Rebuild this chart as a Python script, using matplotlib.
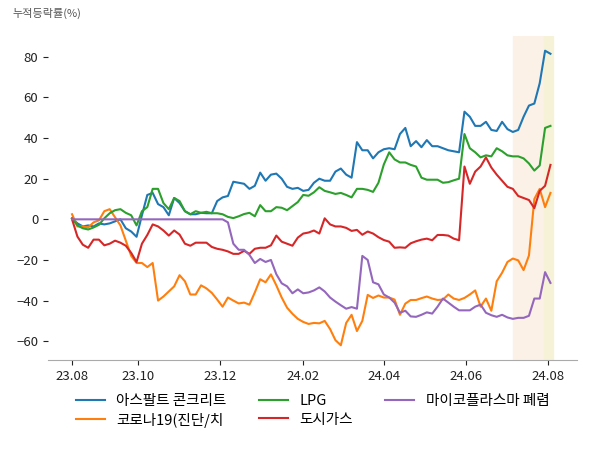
import pandas as pd
import matplotlib
matplotlib.use('Agg')
import matplotlib.pyplot as plt
import matplotlib.dates as mdates

plt.rcParams['font.family'] = ['Noto Sans CJK KR', 'DejaVu Sans']

# 4일 간격 날짜 (23.08.13 ~ 24.08.03)
dates = pd.date_range('2023-08-13', periods=90, freq='4D')

asphalt = [0.5, -2, -3.5, -3, -3.5, -2, -2.5, -2, -1, 0,
           -4.4, -6, -8.6, 2, 12, 13, 7.5, 6, 2, 10.5,
           8, 4, 2.5, 2.5, 3.2, 3, 3, 9, 10.8, 11.5,
           18.5, 18, 17.5, 15, 16.5, 23, 19, 22, 22.5, 20,
           16, 15, 15.5, 14, 14.5, 18, 20, 19, 19, 23.5,
           25, 22, 20.5, 38, 34, 34, 30, 33, 34.5, 35,
           34.5, 42, 45, 36, 38.5, 35.5, 39, 36, 36, 35,
           34, 33.5, 33, 53, 50.5, 46, 46, 48, 44, 43.5,
           48, 44.4, 43, 44, 50.5, 56, 57, 67, 83, 81.5]

corona = [2.5, -3.5, -3.5, -4, -1.5, -0.5, 4, 5, 1, -3,
          -10.5, -18, -21.5, -21.5, -23.5, -21.5, -40, -38, -35.5, -33,
          -27.5, -30.5, -37, -37, -32.5, -34, -36.2, -39.5, -43, -38.5,
          -40, -41.4, -41, -42, -36, -29.5, -31, -27.1, -32.5, -38.5,
          -43.5, -46.5, -49, -50.5, -51.5, -51, -51.2, -50, -54, -59.5,
          -62, -51, -47, -55, -50, -37.2, -38.7, -37.5, -38.5, -38.5,
          -39.5, -47, -41.5, -39.7, -39.7, -38.8, -38, -39, -39.7, -39.5,
          -37, -39, -39.7, -38.7, -37, -35, -43, -39, -45, -30.5,
          -26.3, -21, -19.3, -20.2, -25, -17.8, 10, 15, 6, 13]

lpg = [0.5, -3, -4.4, -5, -4, -2.7, 0.5, 3, 4.5, 5,
       3.2, 2, -3, 4, 6, 15, 15, 8, 5, 10.5,
       9, 4, 2.5, 4, 3.2, 3.7, 3, 3, 2.5, 1.2,
       0.6, 1.5, 2.6, 3.2, 1.5, 7, 4, 4, 6, 5.7,
       4.5, 6.5, 8.5, 12, 11.6, 13.3, 15.8, 14, 13.3, 12.5,
       13, 12, 10.8, 15, 15, 14.5, 13.5, 18, 27, 33,
       29.5, 28, 28, 26.8, 26, 20.5, 19.5, 19.5, 19.5, 18,
       18.3, 19.2, 20, 42, 35, 33, 30.5, 31.5, 31, 35,
       33.5, 31.5, 31, 31, 30, 27.5, 24, 26.5, 45, 46]

citygas = [0, -8.5, -12.5, -14, -10, -10, -12.8, -12, -10.5, -11.5,
           -13, -16.5, -21, -12, -7.7, -2.5, -3.5, -5.5, -8, -5.5,
           -7.5, -12, -13, -11.5, -11.5, -11.5, -13.6, -14.5, -15, -15.8,
           -17, -17, -15.5, -17, -14.5, -14, -14, -12.8, -8, -11,
           -12, -13, -9, -7, -6.5, -5.5, -7, 0.5, -2.5, -3.5,
           -3.5, -4.2, -5.7, -5.2, -7.6, -6, -7, -8.8, -10.2, -11,
           -14, -13.8, -14, -11.8, -10.8, -10, -9.5, -10.3, -7.7, -7.7,
           -8, -9.5, -10.3, 26, 17.5, 23.5, 26, 30.5, 25.5, 22,
           19, 16, 15, 11.5, 10.5, 9.5, 5.5, 14, 16.5, 26.8]

mycoplasma = [0, 0, 0, 0, 0, 0, 0, 0, 0, 0,
              0, 0, 0, 0, 0, 0, 0, 0, 0, 0,
              0, 0, 0, 0, 0, 0, 0, 0, 0, -1.5,
              -12, -15, -15, -17.5, -21.5, -19.5, -21, -20, -27, -31.5,
              -33, -36.4, -34.5, -36.4, -36, -35, -33.5, -35.5, -38.5, -40.5,
              -42.3, -44, -43.2, -44, -18, -20, -31, -32, -37, -38.5,
              -41, -46, -45, -47.8, -48, -47, -45.8, -46.4, -43, -39,
              -41, -43, -44.8, -44.8, -44.8, -43, -42, -46, -47.2, -48,
              -47, -48.3, -49, -48.5, -48.5, -47.5, -39, -39, -26, -31.3]

names = ['아스팔트 콘크리트', '코로나19(진단/치', 'LPG', '도시가스', '마이코플라스마 폐렴']
series = [asphalt, corona, lpg, citygas, mycoplasma]

tick_dates = pd.to_datetime(['2023-08-13', '2023-10-01', '2023-12-01', '2024-02-01',
                             '2024-04-01', '2024-06-01', '2024-08-01'])

fig = plt.figure(figsize=(6, 4.5), dpi=100)
ax = fig.add_axes([0.08, 0.2, 0.882, 0.72])

ax.axvspan(pd.Timestamp('2024-07-06'), pd.Timestamp('2024-07-29'), color='#fbf1e7', zorder=0)
ax.axvspan(pd.Timestamp('2024-07-29'), pd.Timestamp('2024-08-05'), color='#f5f2d8', zorder=0)

for name, vals in zip(names, series):
    ax.plot(dates, vals, lw=1.5, label=name)

ax.set_xticks(tick_dates)
ax.xaxis.set_major_formatter(mdates.DateFormatter('%y.%m'))
ax.set_yticks([-60, -40, -20, 0, 20, 40, 60, 80])
ax.tick_params(labelsize=9.5, colors='#222222')

for s in ['top', 'right', 'left']:
    ax.spines[s].set_visible(False)
ax.spines['bottom'].set_color('#aaaaaa')

fig.text(0.02, 0.971, '누적등락률(%)', fontsize=8, color='#555555', va='center')

ax.legend(loc='upper center', bbox_to_anchor=(0.5, -0.065), ncol=3, frameon=False,
          fontsize=10.5, columnspacing=2.2, handletextpad=0.8, labelspacing=0.3)

plt.savefig('out.png')
